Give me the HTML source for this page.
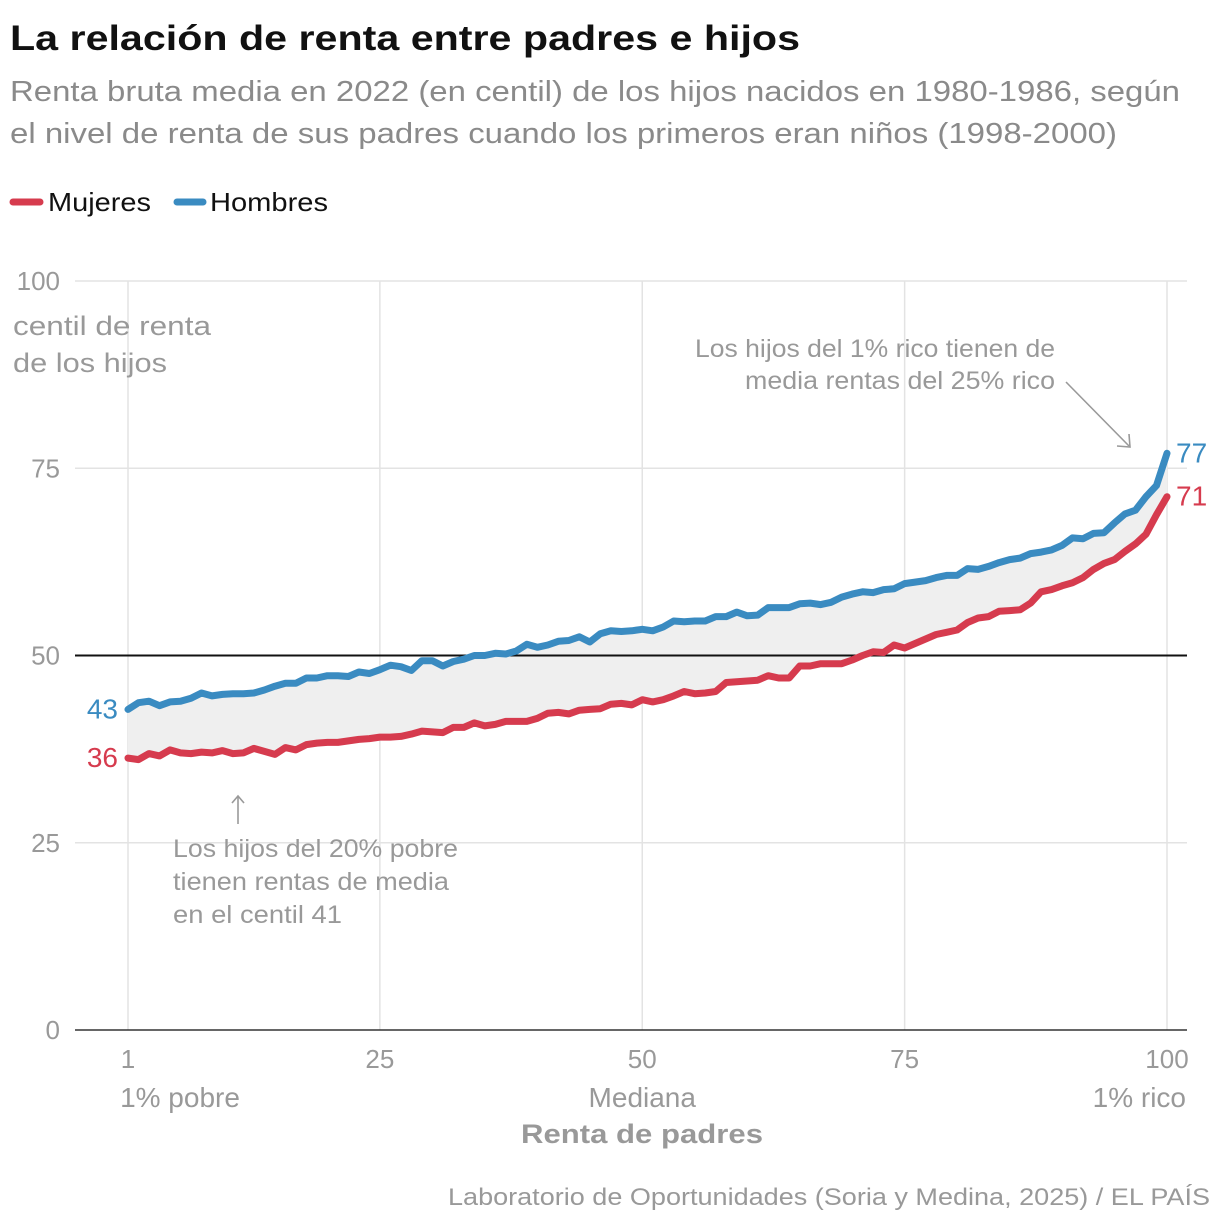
<!DOCTYPE html>
<html><head><meta charset="utf-8">
<style>
body{margin:0;background:#fff;font-family:"Liberation Sans",sans-serif;}
svg text{font-family:"Liberation Sans",sans-serif;}
</style></head>
<body>
<svg id="chart" width="1220" height="1226" viewBox="0 0 1220 1226">
<text x="10" y="50" font-size="35" font-weight="bold" fill="#111" textLength="790" lengthAdjust="spacingAndGlyphs">La relación de renta entre padres e hijos</text>
<text x="10" y="101" font-size="29" fill="#8a8a8a" textLength="1170" lengthAdjust="spacingAndGlyphs">Renta bruta media en 2022 (en centil) de los hijos nacidos en 1980-1986, según</text>
<text x="10" y="143" font-size="29" fill="#8a8a8a" textLength="1107" lengthAdjust="spacingAndGlyphs">el nivel de renta de sus padres cuando los primeros eran niños (1998-2000)</text>
<g>
<line x1="13" y1="202" x2="40" y2="202" stroke="#d63b4e" stroke-width="7" stroke-linecap="round"/>
<text x="48" y="211" font-size="26" fill="#111" textLength="103" lengthAdjust="spacingAndGlyphs">Mujeres</text>
<line x1="177" y1="202" x2="203" y2="202" stroke="#3a8bc1" stroke-width="7" stroke-linecap="round"/>
<text x="210" y="211" font-size="26" fill="#111" textLength="118" lengthAdjust="spacingAndGlyphs">Hombres</text>
</g>
<g id="grid"></g>
<path id="band" fill="#efefef"/>
<g id="axes"></g>
<path id="lineM" fill="none" stroke="#d63b4e" stroke-width="7" stroke-linejoin="round" stroke-linecap="round"/>
<path id="lineH" fill="none" stroke="#3a8bc1" stroke-width="7" stroke-linejoin="round" stroke-linecap="round"/>
<g id="labels"></g>
<text x="13" y="335" font-size="27" fill="#999" textLength="198" lengthAdjust="spacingAndGlyphs">centil de renta</text>
<text x="13" y="372" font-size="27" fill="#999" textLength="154" lengthAdjust="spacingAndGlyphs">de los hijos</text>
<text x="1055" y="357" font-size="25" fill="#999" text-anchor="end" textLength="360" lengthAdjust="spacingAndGlyphs">Los hijos del 1% rico tienen de</text>
<text x="1055" y="389" font-size="25" fill="#999" text-anchor="end" textLength="310" lengthAdjust="spacingAndGlyphs">media rentas del 25% rico</text>
<g stroke="#999" stroke-width="1.6" fill="none"><line x1="1066" y1="382" x2="1129" y2="446"/><polyline points="1117,446 1130,447 1129,434"/></g>
<g stroke="#999" stroke-width="1.6" fill="none"><line x1="238" y1="824" x2="238" y2="797"/><polyline points="232,803 238,796 244,803"/></g>
<text x="173" y="857" font-size="25" fill="#999" textLength="285" lengthAdjust="spacingAndGlyphs">Los hijos del 20% pobre</text>
<text x="173" y="890" font-size="25" fill="#999" textLength="276" lengthAdjust="spacingAndGlyphs">tienen rentas de media</text>
<text x="173" y="923" font-size="25" fill="#999" textLength="169" lengthAdjust="spacingAndGlyphs">en el centil 41</text>
<text x="521" y="1143" font-size="27" font-weight="bold" fill="#999" textLength="242" lengthAdjust="spacingAndGlyphs">Renta de padres</text>
<text x="448" y="1205" font-size="24" fill="#999" textLength="762" lengthAdjust="spacingAndGlyphs">Laboratorio de Oportunidades (Soria y Medina, 2025) / EL PAÍS</text>
</svg>
<script>
const mujeres=[36.3,36.1,36.9,36.6,37.4,37.0,36.9,37.1,37.0,37.3,
36.9,37.0,37.6,37.2,36.8,37.7,37.4,38.1,38.3,38.4,
38.4,38.6,38.8,38.9,39.1,39.1,39.2,39.5,39.9,39.8,
39.7,40.4,40.4,41.0,40.6,40.8,41.2,41.2,41.2,41.6,
42.3,42.4,42.2,42.7,42.8,42.9,43.5,43.6,43.4,44.1,
43.8,44.1,44.6,45.2,44.9,45.0,45.2,46.4,46.5,46.6,
46.7,47.3,47.0,47.0,48.6,48.6,48.9,48.9,48.9,49.4,
50.0,50.5,50.4,51.4,51.0,51.6,52.2,52.8,53.1,53.4,
54.4,55.0,55.2,55.9,56.0,56.1,57.0,58.5,58.8,59.3,
59.7,60.4,61.5,62.3,62.8,63.9,64.9,66.2,68.8,71.2];
const hombres=[42.8,43.7,43.9,43.3,43.8,43.9,44.3,45.0,44.6,44.8,
44.9,44.9,45.0,45.4,45.9,46.3,46.3,47.0,47.0,47.3,
47.3,47.2,47.8,47.6,48.1,48.7,48.5,48.0,49.3,49.3,
48.6,49.2,49.5,50.0,50.0,50.3,50.2,50.6,51.5,51.1,
51.4,51.9,52.0,52.5,51.8,52.9,53.3,53.2,53.3,53.5,
53.3,53.8,54.6,54.5,54.6,54.6,55.2,55.2,55.8,55.3,
55.4,56.4,56.4,56.4,56.9,57.0,56.8,57.1,57.8,58.2,
58.5,58.4,58.8,58.9,59.6,59.8,60.0,60.4,60.7,60.7,
61.6,61.5,61.9,62.4,62.8,63.0,63.6,63.8,64.1,64.7,
65.7,65.6,66.3,66.4,67.7,68.9,69.4,71.2,72.7,77.0];
const yTicks=[0,25,50,75,100];
const xTicks=[1,25,50,75,100];
const xSubLabels=["1% pobre","","Mediana","","1% rico"];

const NS="http://www.w3.org/2000/svg";
const X=v=>128+(v-1)*(1039/99);
const Y=v=>1030-v*7.49;
function mk(tag,attrs,parent,text){const e=document.createElementNS(NS,tag);for(const k in attrs)e.setAttribute(k,attrs[k]);if(text!==undefined)e.textContent=text;parent.appendChild(e);return e;}
const grid=document.getElementById('grid'),axes=document.getElementById('axes'),labels=document.getElementById('labels');
yTicks.forEach(t=>{
  if(t!==0&&t!==50){const l=mk('line',{x1:75,x2:1187,y1:Y(t),y2:Y(t),stroke:'#e3e3e3','stroke-width':1.5},grid);
  
  }
  const tx=mk('text',{x:60,y:Y(t)+9,'font-size':26,fill:'#999','text-anchor':'end'},axes,String(t));
  
  
});
xTicks.forEach((t,i)=>{
  const l=mk('line',{x1:X(t),x2:X(t),y1:Y(100),y2:1030,stroke:'#e3e3e3','stroke-width':1.5},grid);
  
  
  const tx=mk('text',{x:X(t),y:1068,'font-size':26,fill:'#999','text-anchor':'middle'},axes,String(t));
  
  
  if(xSubLabels[i]){const s=mk('text',{x:i===4?1186:(i===0?180:X(t)),y:1107,'font-size':28,fill:'#999','text-anchor':i===4?'end':'middle'},axes,xSubLabels[i]);
  
  }
});
const ref=mk('line',{x1:75,x2:1187,y1:Y(50),y2:Y(50),stroke:'#111','stroke-width':2},axes);


const base=mk('line',{x1:75,x2:1187,y1:1030,y2:1030,stroke:'#333','stroke-width':1.5},axes);


const pts=a=>a.map((v,i)=>X(i+1).toFixed(1)+','+Y(v).toFixed(1));
document.getElementById('lineM').setAttribute('d','M'+pts(mujeres).join('L'));
document.getElementById('lineH').setAttribute('d','M'+pts(hombres).join('L'));
document.getElementById('band').setAttribute('d','M'+pts(hombres).join('L')+'L'+pts(mujeres).reverse().join('L')+'Z');
function endLabel(x,y,txt,col,anchor,name){const t=mk('text',{x:x,y:y,'font-size':28,fill:col,'text-anchor':anchor},labels,txt);

}
endLabel(118,Y(hombres[0])+9,String(Math.round(hombres[0])),'#3a8bc1','end','start-label-hombres');
endLabel(118,Y(mujeres[0])+9,String(Math.round(mujeres[0])),'#d63b4e','end','start-label-mujeres');
endLabel(1176,Y(hombres[99])+9,String(Math.round(hombres[99])),'#3a8bc1','start','end-label-hombres');
endLabel(1176,Y(mujeres[99])+9,String(Math.round(mujeres[99])),'#d63b4e','start','end-label-mujeres');
</script>
</body></html>
